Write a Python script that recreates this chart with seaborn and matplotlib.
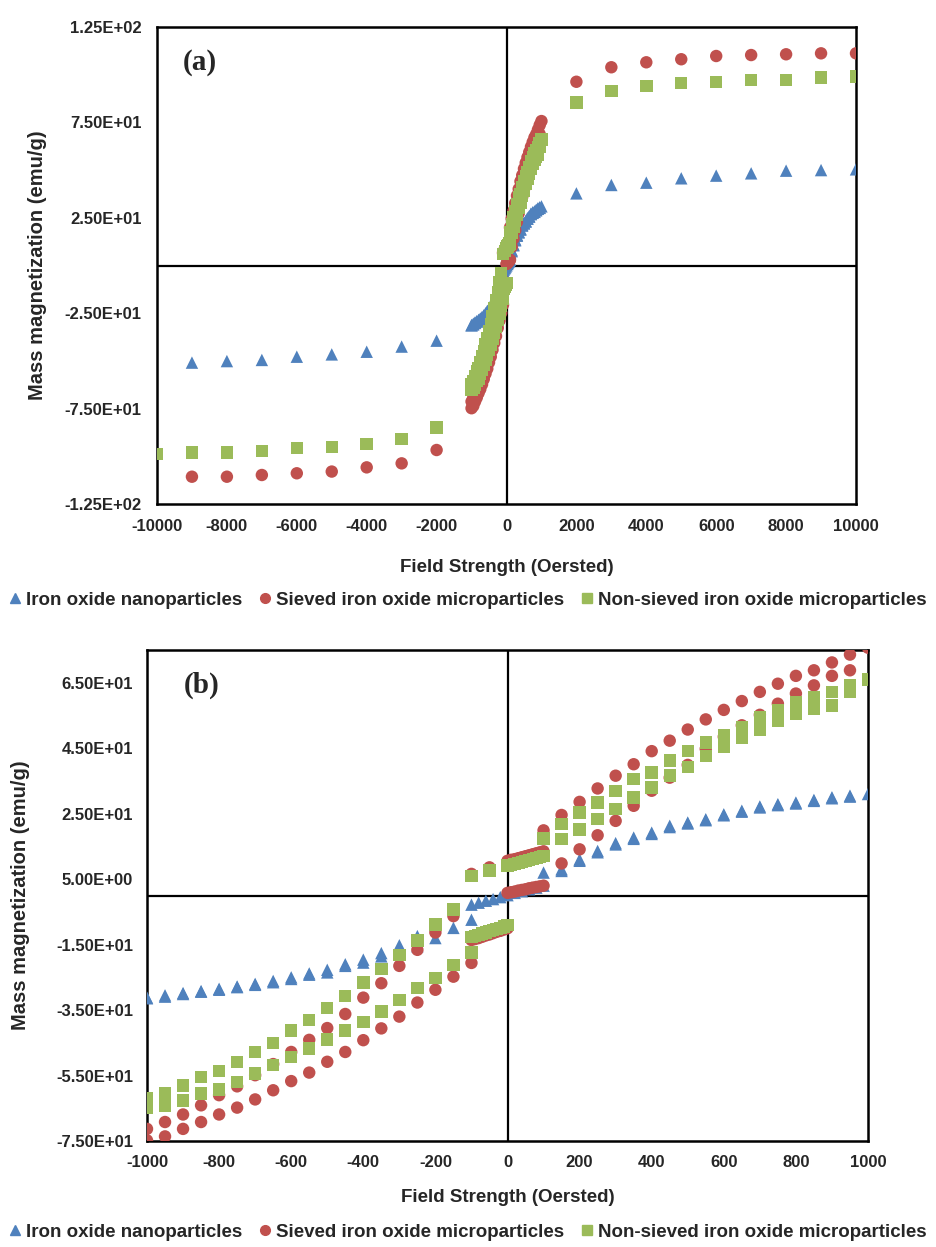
import matplotlib
matplotlib.use("Agg")
import matplotlib.pyplot as plt
from matplotlib.lines import Line2D
from matplotlib.ticker import FixedLocator, FuncFormatter
import pandas as pd
import seaborn as sns

# ---------------- data ----------------
SERIES = ["Iron oxide nanoparticles",
          "Sieved iron oxide microparticles",
          "Non-sieved iron oxide microparticles"]
COLORS = ["#4F81BD", "#C0504D", "#9BBB59"]
MARKERS = ["^", "o", "s"]

# field grids (Oe)
F_OUT_POS = [2000, 3000, 4000, 5000, 6000, 7000, 8000, 9000, 10000]
F_OUT_NEG = [-2000, -3000, -4000, -5000, -6000, -7000, -8000, -9000]
F_OUT_NEG_GREEN = [-2000, -3000, -4000, -5000, -6000, -7000, -8000, -9000, -10000]
F_DESC_POS = [1000, 950, 900, 850, 800, 750, 700, 650, 600, 550, 500, 450,
              400, 350, 300, 250, 200, 150, 100]
F_DENSE_POS = [100, 90, 80, 70, 60, 50, 40, 30, 20, 10, 0]
F_DENSE_NEG = [-100, -90, -80, -70, -60, -50, -40, -30, -20, -10, 0]
F_DENSE_ALL = [100, 80, 60, 40, 20, 0, -20, -40, -60, -80, -100]
F_DESC_NEG = [-50, -100, -150, -200, -250, -300, -350, -400, -450, -500,
              -550, -600, -650, -700, -750, -800, -850, -900, -950, -1000]
F_DESC_NEG_B = [-150, -200, -250, -300, -350, -400, -450, -500,
                -550, -600, -650, -700, -750, -800, -850, -900, -950, -1000]
F_ASC_NEG = [-1000, -950, -900, -850, -800, -750, -700, -650, -600, -550,
             -500, -450, -400, -350, -300, -250, -200, -150, -100]
F_ASC_POS = [150, 200, 250, 300, 350, 400, 450, 500, 550, 600, 650, 700,
             750, 800, 850, 900, 950]

# Iron oxide nanoparticles (blue)
B_OUT_POS = [37.8, 42.2, 43.4, 45.7, 47.1, 48.3, 49.7, 50.0, 50.4]
B_OUT_NEG = [-39.4, -42.5, -45.2, -46.6, -47.8, -49.5, -50.1, -50.9]
B_DESC_POS = [31.0, 30.5, 30.0, 29.2, 28.4, 27.9, 27.2, 25.9, 24.8, 23.3,
              22.3, 21.3, 19.2, 17.7, 16.0, 13.6, 11.0, 8.0, 7.0]
B_DENSE = [3.0, 2.4, 1.9, 1.3, 0.8, 0.1, -0.5, -1.1, -1.6, -2.2, -2.8]
B_DESC_NEG = [-4.4, -9.0, -12.4, -15.2, -17.6, -19.6, -21.0, -22.7, -23.8,
              -25.0, -26.1, -27.0, -27.8, -28.5, -29.2, -29.8, -30.5, -31.2]
B_ASC_NEG = [-31.4, -30.9, -30.1, -29.4, -28.8, -28.0, -27.3, -26.5, -25.5,
             -24.2, -23.5, -21.5, -20.5, -18.6, -16.8, -15.5, -13.0, -9.9, -7.4]
B_ASC_POS = [7.5, 10.6, 13.2, 15.6, 17.3, 18.8, 20.9, 22.0, 23.0, 24.5,
             25.6, 26.9, 27.6, 28.1, 28.9, 29.7, 30.2]

# Sieved iron oxide microparticles (red)
R_OUT_POS = [96.3, 103.9, 106.5, 108.1, 109.8, 110.3, 110.7, 111.2, 111.2]
R_OUT_NEG = [-96.7, -103.7, -105.8, -108.0, -108.9, -109.8, -110.7, -110.7]
R_DESC_POS = [75.7, 73.6, 71.2, 68.8, 67.1, 64.7, 62.2, 59.4, 56.7, 53.8,
              50.7, 47.3, 44.1, 40.1, 36.6, 32.7, 28.6, 24.6, 19.9]
R_DENSE_UP = [13.5, 13.2, 12.9, 12.6, 12.3, 12.0, 11.7, 11.4, 11.1, 10.9, 10.6]
R_DESC_NEG = [8.6, 6.6, -6.3, -11.3, -16.6, -21.5, -26.8, -31.2, -36.2, -40.5,
              -44.1, -47.8, -51.5, -54.9, -58.3, -61.0, -64.1, -66.9, -69.2, -71.3]
R_ASC_NEG = [-74.8, -73.6, -71.3, -69.2, -66.9, -64.8, -62.3, -59.5, -56.7,
             -54.1, -50.8, -47.8, -44.2, -40.6, -37.0, -32.7, -28.8, -24.8, -20.6]
R_DENSE_LOW_NEG = [-13.6, -13.3, -13.0, -12.6, -12.2, -11.9, -11.5, -11.1,
                   -10.8, -10.4, -10.0]
R_DENSE_LOW_POS = [3.0, 2.8, 2.6, 2.4, 2.2, 1.9, 1.7, 1.5, 1.2, 1.0, 0.8]
R_ASC_POS = [9.8, 14.1, 18.4, 22.8, 27.4, 32.0, 36.0, 39.9, 44.8, 48.5,
             52.0, 55.2, 58.6, 61.7, 64.2, 67.1, 68.8]

# Non-sieved iron oxide microparticles (green)
G_OUT_POS = [85.5, 91.6, 94.2, 95.8, 96.3, 97.2, 97.2, 98.6, 99.0]
G_OUT_NEG = [-85.0, -90.9, -93.7, -95.0, -95.5, -97.2, -98.1, -98.1, -98.8]
G_DESC_POS = [66.0, 64.2, 62.2, 60.6, 59.1, 56.5, 54.5, 51.4, 49.1, 46.8,
              44.1, 41.2, 37.6, 35.6, 32.0, 28.4, 25.4, 21.8, 17.4]
G_DENSE_UP = [12.0, 11.7, 11.4, 11.1, 10.8, 10.5, 10.3, 10.0, 9.7, 9.4, 9.2]
G_DESC_NEG = [7.7, 5.9, -4.3, -8.9, -13.8, -18.1, -22.5, -26.6, -30.7, -34.4,
              -38.0, -41.3, -45.0, -47.8, -50.8, -53.6, -55.4, -58.0, -60.5, -62.0]
G_ASC_NEG = [-65.0, -64.1, -62.6, -60.5, -59.3, -57.0, -54.4, -51.8, -49.3,
             -46.7, -44.0, -41.3, -38.6, -35.5, -31.9, -28.3, -25.2, -21.2, -17.4]
G_DENSE_LOW = [-12.6, -12.3, -12.0, -11.6, -11.3, -10.9, -10.6, -10.2, -9.9,
               -9.5, -9.1]
G_ASC_POS = [17.2, 20.2, 23.3, 26.4, 30.0, 33.0, 36.6, 39.2, 42.7, 45.3,
             48.2, 50.7, 53.5, 55.5, 57.1, 58.1, 62.2]

A_YTICKS = [-125, -75, -25, 25, 75, 125]
A_XTICKS = [-10000, -8000, -6000, -4000, -2000, 0, 2000, 4000, 6000, 8000, 10000]
B_YTICKS = [-75, -55, -35, -15, 5, 25, 45, 65]
B_XTICKS = [-1000, -800, -600, -400, -200, 0, 200, 400, 600, 800, 1000]


def segs(name, pairs):
    rows = []
    for fx, my in pairs:
        for a, b in zip(fx, my):
            rows.append((name, a, b))
    return rows


rows = []
rows += segs(SERIES[0], [(F_OUT_POS, B_OUT_POS), (F_OUT_NEG, B_OUT_NEG),
                         (F_DESC_POS, B_DESC_POS), (F_DENSE_ALL, B_DENSE),
                         (F_DESC_NEG_B, B_DESC_NEG), (F_ASC_NEG, B_ASC_NEG),
                         (F_ASC_POS, B_ASC_POS)])
rows += segs(SERIES[1], [(F_OUT_POS, R_OUT_POS), (F_OUT_NEG, R_OUT_NEG),
                         (F_DESC_POS, R_DESC_POS), (F_DENSE_POS, R_DENSE_UP),
                         (F_DESC_NEG, R_DESC_NEG), (F_ASC_NEG, R_ASC_NEG),
                         (F_DENSE_NEG, R_DENSE_LOW_NEG),
                         (F_DENSE_POS, R_DENSE_LOW_POS), (F_ASC_POS, R_ASC_POS)])
rows += segs(SERIES[2], [(F_OUT_POS, G_OUT_POS), (F_OUT_NEG_GREEN, G_OUT_NEG),
                         (F_DESC_POS, G_DESC_POS), (F_DENSE_POS, G_DENSE_UP),
                         (F_DESC_NEG, G_DESC_NEG), (F_ASC_NEG, G_ASC_NEG),
                         (F_DENSE_NEG, G_DENSE_LOW), (F_ASC_POS, G_ASC_POS)])
df = pd.DataFrame(rows, columns=["series", "field", "mag"])

# ---------------- style ----------------
sns.set_style("white")
FONT = ["Liberation Sans", "DejaVu Sans"]
plt.rcParams["font.family"] = FONT
plt.rcParams["font.weight"] = "bold"
plt.rcParams["axes.unicode_minus"] = False

fig = plt.figure(figsize=(9.36, 12.47), dpi=100)
W, H = 936, 1247


def make_axes(l, r, t, b):
    return fig.add_axes([l / W, 1 - b / H, (r - l) / W, (b - t) / H])


ax_a = make_axes(157, 856, 27, 504)
ax_b = make_axes(147, 868, 650, 1141)

palette = dict(zip(SERIES, COLORS))
markers = dict(zip(SERIES, MARKERS))

sci = FuncFormatter(lambda v, p: "{:.2E}".format(v))

for ax, xl, yl, xt, yt, lab, labxy, ylx, xly, pad in [
        (ax_a, (-10000, 10000), (-125, 125), A_XTICKS, A_YTICKS, "(a)",
         (200, 63), -0.158, -0.115, 11),
        (ax_b, (-1000, 1000), (-75, 75), B_XTICKS, B_YTICKS, "(b)",
         (202, 685), -0.162, -0.097, 10)]:
    sns.scatterplot(data=df, x="field", y="mag", hue="series", style="series",
                    palette=palette, markers=markers, hue_order=SERIES,
                    s=80, linewidth=0, alpha=1, legend=False, ax=ax, zorder=3)
    ax.set_xlim(*xl)
    ax.set_ylim(*yl)
    ax.axhline(0, color="black", lw=1.6, zorder=2)
    ax.axvline(0, color="black", lw=1.6, zorder=2)
    ax.xaxis.set_major_locator(FixedLocator(xt))
    ax.yaxis.set_major_locator(FixedLocator(yt))
    ax.yaxis.set_major_formatter(sci)
    ax.tick_params(axis="both", length=0, labelsize=12, pad=pad)
    for t in ax.get_xticklabels() + ax.get_yticklabels():
        t.set_fontweight("bold")
    for sp in ax.spines.values():
        sp.set_visible(True)
        sp.set_color("black")
        sp.set_linewidth(1.8)
    ax.grid(False)
    ax.set_xlabel("Field Strength (Oersted)", fontsize=13.5, fontweight="bold")
    ax.set_ylabel("Mass magnetization (emu/g)", fontsize=14.5, fontweight="bold")
    ax.yaxis.set_label_coords(ylx, 0.5)
    ax.xaxis.set_label_coords(0.5, xly)
    fig.text(labxy[0] / W, 1 - labxy[1] / H, lab, family="Liberation Serif",
             fontsize=21, fontweight="bold", ha="center", va="center")

handles = [Line2D([], [], ls="", marker=m, color=c, markersize=7)
           for m, c in zip(MARKERS, COLORS)]
for ycen in (600, 1232):
    fig.legend(handles, SERIES, loc="center", bbox_to_anchor=(0.5, 1 - ycen / H),
               ncol=3, frameon=False, handlelength=0.6, handletextpad=0.3,
               columnspacing=0.9, prop={"family": FONT, "weight": "bold", "size": 13.5})

fig.savefig("out.png", dpi=100)
